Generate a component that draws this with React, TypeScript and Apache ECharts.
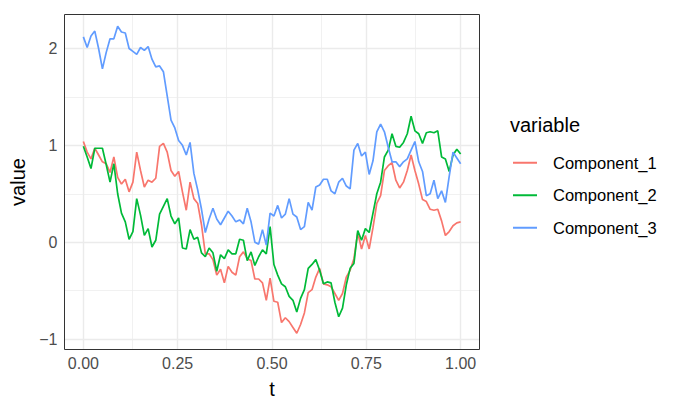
import React, { useEffect, useRef } from "react";
import * as echarts from "echarts";

const N = 100;
const tValues: number[] = Array.from({ length: N }, (_, i) => i / (N - 1));

const seriesNames = ["Component_1", "Component_2", "Component_3"];
const seriesColors = ["#F8766D", "#00BA38", "#619CFF"];

const component1: number[] = [
  1.04, 0.93, 0.86, 0.97, 0.90, 0.83, 0.81, 0.72, 0.88, 0.67,
  0.60, 0.65, 0.52, 0.62, 0.93, 0.74, 0.57, 0.64, 0.62, 0.66,
  0.99, 1.02, 0.93, 0.74, 0.68, 0.73, 0.52, 0.33, 0.62, 0.45,
  0.40, 0.18, -0.12, -0.12, -0.18, -0.34, -0.28, -0.42, -0.25, -0.31,
  -0.34, -0.15, -0.10, -0.17, -0.19, -0.38, -0.38, -0.42, -0.60, -0.37,
  -0.61, -0.62, -0.83, -0.78, -0.82, -0.88, -0.94, -0.85, -0.73, -0.52,
  -0.49, -0.36, -0.27, -0.43, -0.44, -0.46, -0.53, -0.60, -0.53, -0.36,
  -0.29, -0.17, 0.10, -0.07, 0.07, -0.07, 0.15, 0.40, 0.48, 0.74,
  0.79, 0.82, 0.64, 0.56, 0.62, 0.74, 0.90, 0.74, 0.60, 0.44,
  0.42, 0.34, 0.33, 0.34, 0.22, 0.07, 0.11, 0.17, 0.20, 0.21,
];

const component2: number[] = [
  0.99, 0.88, 0.76, 0.97, 0.97, 0.97, 0.80, 0.62, 0.81, 0.50,
  0.30, 0.21, 0.03, 0.11, 0.45, 0.28, 0.07, 0.14, -0.05, 0.02,
  0.29, 0.37, 0.45, 0.27, 0.19, 0.25, -0.06, -0.07, 0.13, 0.03,
  0.05, -0.11, -0.15, -0.06, -0.11, -0.30, -0.13, -0.17, -0.08, -0.12,
  -0.12, 0.03, 0.02, -0.19, -0.10, -0.24, -0.15, -0.08, -0.12, 0.16,
  -0.23, -0.34, -0.43, -0.46, -0.56, -0.60, -0.72, -0.58, -0.49, -0.27,
  -0.23, -0.18, -0.29, -0.43, -0.41, -0.42, -0.62, -0.77, -0.68, -0.44,
  -0.27, -0.22, 0.12, 0.02, 0.14, 0.10, 0.30, 0.50, 0.62, 0.88,
  0.95, 1.12, 0.99, 0.98, 1.03, 1.12, 1.30, 1.15, 1.12, 1.02,
  1.13, 1.14, 1.13, 1.15, 0.88, 0.86, 0.73, 0.90, 0.96, 0.91,
];

const component3: number[] = [
  2.12, 2.01, 2.13, 2.18, 2.00, 1.79, 1.96, 2.10, 2.10, 2.23,
  2.17, 2.16, 2.00, 1.97, 1.94, 2.01, 1.98, 2.02, 1.89, 1.81,
  1.82, 1.76, 1.51, 1.26, 1.18, 1.05, 1.00, 0.90, 1.03, 0.71,
  0.54, 0.34, 0.10, 0.24, 0.35, 0.24, 0.18, 0.25, 0.32, 0.27,
  0.21, 0.23, 0.19, 0.35, 0.21, 0.00, -0.02, 0.13, -0.03, 0.30,
  0.27, 0.38, 0.25, 0.29, 0.45, 0.29, 0.26, 0.13, 0.16, 0.41,
  0.33, 0.57, 0.59, 0.65, 0.65, 0.53, 0.50, 0.62, 0.66, 0.58,
  0.55, 0.95, 1.02, 0.89, 0.93, 0.70, 0.84, 1.14, 1.22, 1.14,
  0.98, 0.83, 0.83, 0.78, 0.83, 0.86, 0.95, 1.04, 0.83, 0.73,
  0.48, 0.50, 0.64, 0.45, 0.53, 0.41, 0.68, 0.93, 0.87, 0.81,
];

const xMajorTicks = [0, 0.25, 0.5, 0.75, 1];
const xMinorTicks = [0.125, 0.375, 0.625, 0.875];
const yMajorTicks = [-1, 0, 1, 2];
const yMinorTicks = [-0.5, 0.5, 1.5];

const FONT = "Liberation Sans, Arial, Helvetica, sans-serif";

export default function App() {
  const ref = useRef<HTMLDivElement>(null);

  useEffect(() => {
    if (!ref.current) return;
    const chart = echarts.init(ref.current, null, { renderer: "svg" });
    const allData = [component1, component2, component3];

    const major = { color: "#EBEBEB", width: 1.4, type: "solid" };
    const minor = { color: "#EBEBEB", width: 0.7, type: "solid" };
    const gridLines: any[] = [];
    xMajorTicks.forEach((v) => gridLines.push({ xAxis: v, lineStyle: major }));
    xMinorTicks.forEach((v) => gridLines.push({ xAxis: v, lineStyle: minor }));
    yMajorTicks.forEach((v) => gridLines.push({ yAxis: v, lineStyle: major }));
    yMinorTicks.forEach((v) => gridLines.push({ yAxis: v, lineStyle: minor }));

    const option: any = {
      animation: false,
      backgroundColor: "#FFFFFF",
      textStyle: { fontFamily: FONT },
      grid: {
        left: 64.5,
        top: 14.5,
        width: 415,
        height: 335,
        show: true,
        borderColor: "#333333",
        borderWidth: 1,
        backgroundColor: "transparent",
        containLabel: false,
        z: 4,
      },
      xAxis: {
        type: "value",
        min: -0.05,
        max: 1.05,
        name: "t",
        nameLocation: "middle",
        nameGap: 29,
        nameTextStyle: { color: "#000000", fontSize: 20, fontFamily: FONT },
        axisLine: { show: false },
        axisTick: {
          show: true,
          customValues: xMajorTicks,
          length: 4,
          lineStyle: { color: "#333333", width: 1 },
        },
        axisLabel: {
          customValues: xMajorTicks,
          formatter: (v: number) => v.toFixed(2),
          color: "#4D4D4D",
          fontSize: 16,
          margin: 6,
          fontFamily: FONT,
        },
        splitLine: { show: false },
      },
      yAxis: {
        type: "value",
        min: -1.108,
        max: 2.351,
        name: "value",
        nameLocation: "middle",
        nameGap: 31,
        nameRotate: 90,
        nameTextStyle: { color: "#000000", fontSize: 20, fontFamily: FONT },
        axisLine: { show: false },
        axisTick: {
          show: true,
          customValues: yMajorTicks,
          length: 4,
          lineStyle: { color: "#333333", width: 1 },
        },
        axisLabel: {
          customValues: yMajorTicks,
          formatter: (v: number) => (v < 0 ? "\u2212" + Math.abs(v) : String(v)),
          color: "#4D4D4D",
          fontSize: 16,
          margin: 7,
          fontFamily: FONT,
        },
        splitLine: { show: false },
      },
      legend: {
        orient: "vertical",
        left: 513,
        top: 146.5,
        padding: 0,
        itemWidth: 24,
        itemHeight: 2,
        itemGap: 0,
        icon: "rect",
        data: seriesNames,
        textStyle: { fontSize: 16.5, color: "#000000", lineHeight: 32.5, padding: [0, 0, 0, 11], fontFamily: FONT },
      },
      graphic: [
        {
          type: "text",
          left: 510,
          top: 115,
          style: { text: "variable", fontSize: 20, fill: "#000000", fontFamily: FONT },
        },
      ],
      series: [
        {
          name: "__grid",
          type: "line",
          data: [],
          silent: true,
          z: 1,
          markLine: {
            silent: true,
            z: 1,
            symbol: "none",
            label: { show: false },
            animation: false,
            data: gridLines,
          },
        },
        ...seriesNames.map((name, k) => ({
          name,
          type: "line",
          z: 3,
          showSymbol: false,
          symbol: "none",
          data: tValues.map((t, i) => [t, allData[k][i]]),
          lineStyle: { color: seriesColors[k], width: 1.7 },
          itemStyle: { color: seriesColors[k] },
        })),
      ],
    };

    chart.setOption(option);
    return () => chart.dispose();
  }, []);

  return (
    <div
      ref={ref}
      style={{ position: "fixed", left: 0, top: 0, width: 681, height: 409, background: "#fff" }}
    />
  );
}
